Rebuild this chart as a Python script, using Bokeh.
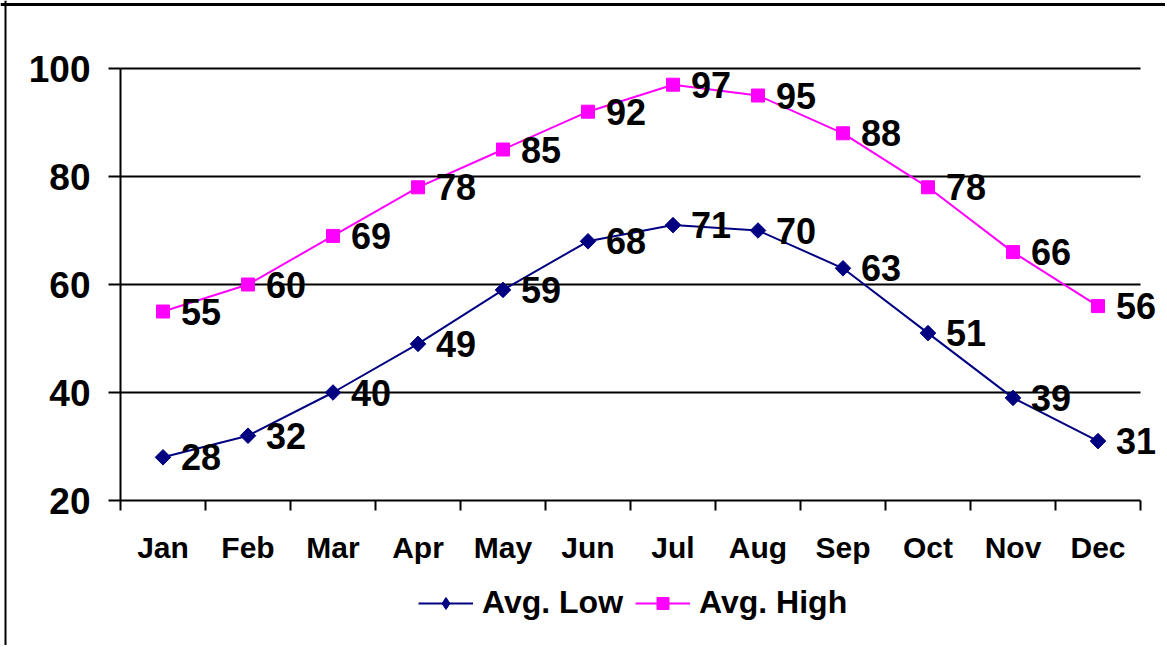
from bokeh.plotting import figure
from bokeh.models import (Range1d, FixedTicker, ColumnDataSource, LabelSet, Legend, LegendItem, Span)
from bokeh.core.properties import value
from bokeh.embed import file_html
from bokeh.resources import INLINE
import math

months = ["Jan", "Feb", "Mar", "Apr", "May", "Jun", "Jul", "Aug", "Sep", "Oct", "Nov", "Dec"]
avg_low = [28, 32, 40, 49, 59, 68, 71, 70, 63, 51, 39, 31]
avg_high = [55, 60, 69, 78, 85, 92, 97, 95, 88, 78, 66, 56]
y_ticks = [20, 40, 60, 80, 100]

FONT = "Liberation Sans"
LOW_C = "#000080"
HIGH_C = "#FF00FF"

n = len(months)
xs = [i + 0.5 for i in range(n)]

# canvas and pixel geometry of the plotting area (frame covers the whole canvas)
W, H = 1165, 645
X0_PX, CAT_PX = 120, 85.0            # x=0 at 120px, 85px per month
Y20_PX, Y100_PX = 500, 68            # pixel rows of 20 and 100
ppu = (Y20_PX - Y100_PX) / (y_ticks[-1] - y_ticks[0])
x_start, x_end = -X0_PX / CAT_PX, (W - X0_PX) / CAT_PX
y_top = y_ticks[-1] + Y100_PX / ppu
y_bot = y_ticks[0] - (H - Y20_PX) / ppu

p = figure(width=W, height=H, output_backend="svg", toolbar_location=None,
           x_range=Range1d(x_start, x_end), y_range=Range1d(y_bot, y_top),
           min_border_left=0, min_border_right=0, min_border_top=0, min_border_bottom=0)
p.title.visible = False
p.outline_line_color = None
p.background_fill_color = "white"
p.border_fill_color = "white"

# x axis: month labels at centres, separator ticks between months
xa = p.xaxis[0]
xa.fixed_location = y_ticks[0]
xa.bounds = (0, n)
xa.ticker = FixedTicker(ticks=xs, minor_ticks=list(range(n + 1)))
xa.major_label_overrides = {x: m for x, m in zip(xs, months)}
xa.major_tick_out = 0
xa.major_tick_in = 0
xa.minor_tick_out = 10
xa.minor_tick_in = 0
xa.minor_tick_line_color = "black"
xa.minor_tick_line_width = 2
xa.axis_line_color = "black"
xa.axis_line_width = 2
xa.major_label_text_font = FONT
xa.major_label_text_font_style = "bold"
xa.major_label_text_font_size = "30px"
xa.major_label_text_color = "black"
xa.major_label_standoff = 20

ya = p.yaxis[0]
ya.fixed_location = 0
ya.bounds = (y_ticks[0], y_ticks[-1])
ya.ticker = FixedTicker(ticks=y_ticks, minor_ticks=[])
ya.major_tick_out = 12
ya.major_tick_in = 0
ya.major_tick_line_color = "black"
ya.major_tick_line_width = 2
ya.axis_line_color = "black"
ya.axis_line_width = 2
ya.major_label_text_font = FONT
ya.major_label_text_font_style = "bold"
ya.major_label_text_font_size = "37px"
ya.major_label_text_color = "black"
ya.major_label_standoff = 18

p.xgrid.grid_line_color = None
p.ygrid.ticker = FixedTicker(ticks=y_ticks[1:], minor_ticks=[])
p.ygrid.cross_bounds = (0, n)
p.ygrid.grid_line_color = "black"
p.ygrid.grid_line_width = 2
p.ygrid.grid_line_alpha = 1.0

# outer chart-area border (left and top edges visible in the reference)
p.add_layout(Span(location=x_start + 5 / CAT_PX, dimension="height", line_color="black", line_width=2))
p.add_layout(Span(location=y_top - 4 / ppu, dimension="width", line_color="black", line_width=3))

src = ColumnDataSource(dict(x=xs, low=avg_low, high=avg_high,
                            low_t=[str(v) for v in avg_low], high_t=[str(v) for v in avg_high]))

l_low = p.line("x", "low", source=src, line_color=LOW_C, line_width=2)
m_low = p.scatter("x", "low", source=src, marker="square", angle=math.pi / 4, size=11,
                  fill_color=LOW_C, line_color=LOW_C)
l_high = p.line("x", "high", source=src, line_color=HIGH_C, line_width=2)
m_high = p.scatter("x", "high", source=src, marker="square", size=13,
                   fill_color=HIGH_C, line_color=HIGH_C)
# legend swatch for the low series (diamond shape as in the reference legend); not drawn in the plot
legend_low_marker = p.scatter(x=[float("nan")], y=[float("nan")], marker="diamond", size=17,
                              fill_color=LOW_C, line_color=LOW_C)

for col, tcol in (("low", "low_t"), ("high", "high_t")):
    ls = LabelSet(x="x", y=col, text=tcol, source=src, x_offset=18, y_offset=0,
                  text_font=value(FONT), text_font_style=value("bold"), text_font_size=value("36px"),
                  text_color=value("black"), text_align=value("left"), text_baseline=value("middle"))
    p.add_layout(ls)

legend = Legend(items=[LegendItem(label="Avg. Low", renderers=[l_low, legend_low_marker]),
                       LegendItem(label="Avg. High", renderers=[l_high, m_high])],
                orientation="horizontal", location=(418, 24),
                glyph_width=55, glyph_height=30, label_height=30, label_standoff=9, spacing=12,
                padding=0, margin=0, border_line_color=None, background_fill_alpha=0,
                label_text_font=FONT, label_text_font_style="bold", label_text_font_size="32px",
                label_text_color="black")
p.add_layout(legend, "center")

open("out.html", "w").write(file_html(p, INLINE))
